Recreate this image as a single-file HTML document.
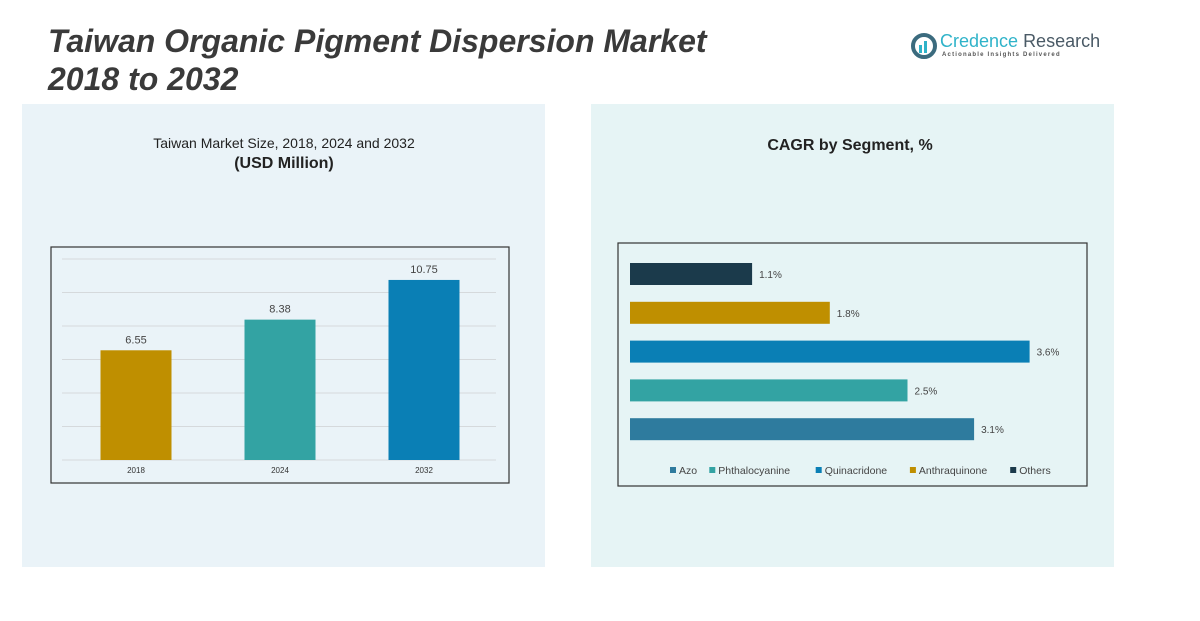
<!DOCTYPE html>
<html><head><meta charset="utf-8"><style>
body{margin:0;width:1200px;height:621px;background:#fff;position:relative;overflow:hidden;font-family:"Liberation Sans",sans-serif}
.abs{position:absolute}
</style></head><body>
<div class="abs" style="left:22px;top:104px;width:523px;height:463px;background:#eaf3f8"></div>
<div class="abs" style="left:591px;top:104px;width:523px;height:463px;background:#e6f4f5"></div>
<div class="abs" style="left:48px;top:22px;font-size:32px;font-weight:bold;font-style:italic;color:#3a3a3a;line-height:38px">Taiwan Organic Pigment Dispersion Market<br>2018 to 2032</div>
<div class="abs" style="left:910px;top:32px;width:180px;height:30px">
<svg width="28" height="28" style="position:absolute;left:0;top:0"><circle cx="14" cy="14" r="11" fill="none" stroke="#3b6b7e" stroke-width="4"/><rect x="9" y="13" width="3" height="8" fill="#2fb3c9"/><rect x="14" y="9" width="3" height="12" fill="#2fb3c9"/></svg>
<div class="abs" style="left:30px;top:-1px;font-size:18px;color:#2fb3c9;white-space:nowrap">Credence <span style="color:#4a5a66">Research</span></div>
<div class="abs" style="left:32px;top:20px;font-size:6px;letter-spacing:1.2px;color:#555;white-space:nowrap;font-weight:bold">Actionable Insights Delivered</div>
</div>
<div class="abs" style="left:134px;top:135px;width:300px;text-align:center;font-size:14px;color:#222">Taiwan Market Size, 2018, 2024 and 2032</div>
<div class="abs" style="left:134px;top:155px;width:300px;text-align:center;font-size:16px;font-weight:bold;color:#222">(USD Million)</div>
<div class="abs" style="left:700px;top:137px;width:300px;text-align:center;font-size:16px;font-weight:bold;color:#222">CAGR by Segment, %</div>
<svg class="abs" style="left:0;top:0" width="1200" height="621">
<rect x="51" y="247" width="458" height="236" fill="none" stroke="#333" stroke-width="1.2"/>
<rect x="618" y="243" width="469" height="243" fill="none" stroke="#333" stroke-width="1.2"/>
<g id="g1"></g><g id="g2"></g>
</svg>
<script>
const years=["2018","2024","2032"];
const sizes=[6.55,8.38,10.75];
const yTicks=[0,2,4,6,8,10,12];
const segs=["Others","Anthraquinone","Quinacridone","Phthalocyanine","Azo"];
const cagr=[1.1,1.8,3.6,2.5,3.1];
const legendOrder=["Azo","Phthalocyanine","Quinacridone","Anthraquinone","Others"];
const ns="http://www.w3.org/2000/svg";
const segColor={Others:"#1b3a4b",Anthraquinone:"#bf8f00",Quinacridone:"#0a7fb5",Phthalocyanine:"#33a3a3",Azo:"#2e7b9e"};
const yrColor=["#bf8f00","#33a3a3","#0a7fb5"];
function mk(p,t,a,txt){const e=document.createElementNS(ns,t);for(const k in a)e.setAttribute(k,a[k]);if(txt!==undefined)e.textContent=txt;p.appendChild(e);return e;}
const g1=document.getElementById('g1'),g2=document.getElementById('g2');
const y=v=>460-v*(201/12);
const xc=i=>136+i*144;
yTicks.forEach(t=>{const l=mk(g1,'line',{x1:62,x2:496,y1:y(t),y2:y(t),stroke:'#d5d9dc','stroke-width':1});

});
sizes.forEach((v,i)=>{const r=mk(g1,'rect',{x:xc(i)-35.5,y:y(v),width:71,height:460-y(v),fill:yrColor[i]});


const t=mk(g1,'text',{x:xc(i),y:y(v)-7,'text-anchor':'middle','font-size':11,fill:'#444'},v.toFixed(2));


const c=mk(g1,'text',{x:xc(i),y:473,'text-anchor':'middle','font-size':8,fill:'#333'},years[i]);

});
const xs=v=>630+v*111;
segs.forEach((s,i)=>{const top=263+i*38.8;
const r=mk(g2,'rect',{x:630,y:top,width:xs(cagr[i])-630,height:22,fill:segColor[s]});


const t=mk(g2,'text',{x:xs(cagr[i])+7,y:top+15,'font-size':10,fill:'#444'},cagr[i]+'%');

});
let lx=670;
legendOrder.forEach(s=>{mk(g2,'rect',{x:lx,y:467,width:6,height:6,fill:segColor[s]});
const t=mk(g2,'text',{x:lx+9,y:474,'font-size':10.5,fill:'#444'},s);


lx+=9+s.length*6.1+12;});
</script>
</body></html>
